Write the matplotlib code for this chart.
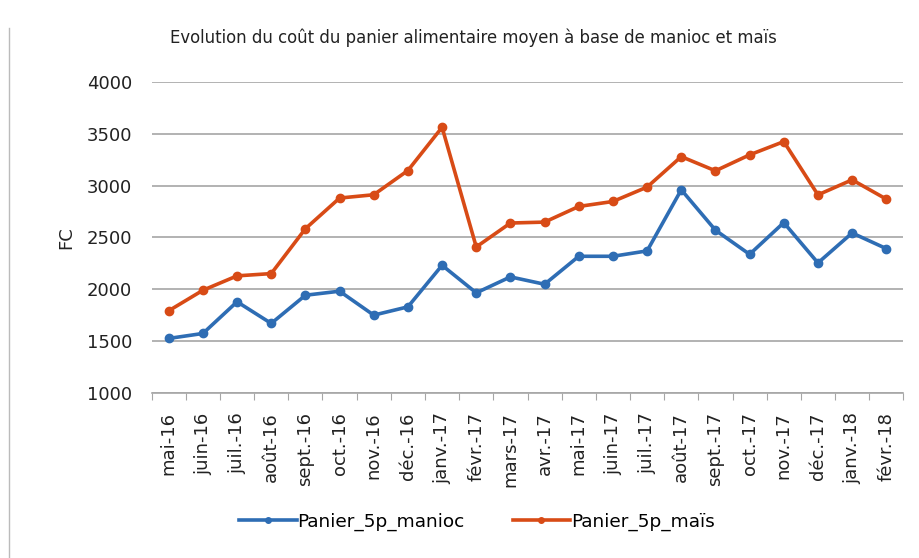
import numpy as np
import matplotlib.pyplot as plt
from matplotlib.lines import Line2D

mois = ["mai-16", "juin-16", "juil.-16", "août-16", "sept.-16", "oct.-16", "nov.-16",
        "déc.-16", "janv.-17", "févr.-17", "mars-17", "avr.-17", "mai-17", "juin-17",
        "juil.-17", "août-17", "sept.-17", "oct.-17", "nov.-17", "déc.-17", "janv.-18",
        "févr.-18"]
manioc = [1525, 1573, 1879, 1670, 1942, 1981, 1750, 1830, 2231, 1965, 2119, 2048,
          2318, 2318, 2370, 2960, 2570, 2337, 2643, 2254, 2543, 2392]
mais = [1792, 1990, 2129, 2151, 2584, 2880, 2912, 3146, 3563, 2408, 2639, 2648,
        2799, 2847, 2986, 3280, 3143, 3297, 3425, 2911, 3056, 2870]

bleu = '#2E6DB4'
orange = '#D84B16'

fig = plt.figure(figsize=(9.19, 5.58), dpi=100)
ax = fig.add_axes([0.165, 0.296, 0.818, 0.557])

x = np.arange(len(mois))
ax.plot(x, manioc, color=bleu, lw=2.6, marker='o', ms=6, label='Panier_5p_manioc')
ax.plot(x, mais, color=orange, lw=2.6, marker='o', ms=6, label='Panier_5p_maïs')

ax.set_ylim(1000, 4000)
ax.set_yticks(range(1000, 4001, 500))
ax.set_xlim(-0.5, len(mois) - 0.5)
ax.yaxis.grid(True, color='#a6a6a6', lw=1.2)
ax.set_axisbelow(True)
for s in ['top', 'right', 'left']:
    ax.spines[s].set_visible(False)
ax.spines['bottom'].set_color('#a6a6a6')
ax.spines['bottom'].set_linewidth(1.2)
ax.tick_params(axis='y', length=0, labelsize=13, colors='#222222', pad=14)

# ticks between categories (Excel style)
ax.set_xticks(np.arange(-0.5, len(mois)), minor=False)
ax.set_xticklabels([])
ax.set_xticks(x, minor=True)
ax.set_xticklabels(mois, minor=True, rotation=90, fontsize=13, color='#222222')
ax.tick_params(axis='x', which='major', length=5, color='#a6a6a6')
ax.tick_params(axis='x', which='minor', length=0, pad=14)

ax.set_ylabel('FC', fontsize=13, color='#222222', labelpad=8)

fig.text(0.515, 0.932, "Evolution du coût du panier alimentaire moyen à base de manioc et maïs",
         ha='center', va='center', fontsize=11.9, color='#222222')

handles = [Line2D([], [], color=bleu, lw=2.6, marker='o', ms=4),
           Line2D([], [], color=orange, lw=2.6, marker='o', ms=4)]
fig.legend(handles, ['Panier_5p_manioc', 'Panier_5p_maïs'], loc='center',
           bbox_to_anchor=(0.519, 0.0645), ncol=2, frameon=False, fontsize=13.3,
           handlelength=3.1, handletextpad=0.05, columnspacing=2.6)

fig.add_artist(Line2D([0.01, 0.01], [0.0, 0.95], color='#bbbbbb', lw=1))

fig.savefig('out.png', dpi=100)
